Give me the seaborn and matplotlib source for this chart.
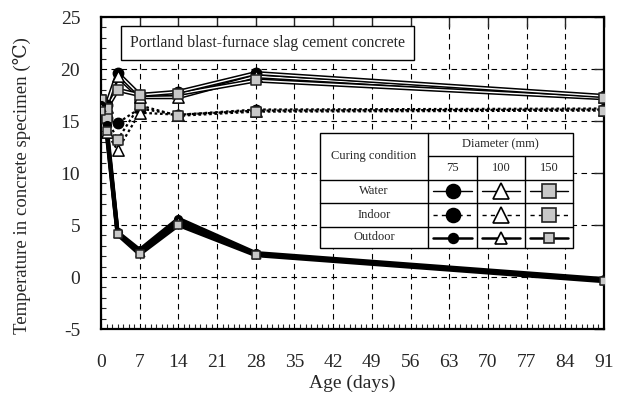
import numpy as np
import pandas as pd
import seaborn as sns
import matplotlib.pyplot as plt
import matplotlib.patheffects as pe
from matplotlib.lines import Line2D
from matplotlib.patches import Rectangle

# Age of the specimens (days)
age = [0, 1, 3, 7, 14, 28, 91]

# Temperature in concrete specimen (deg C), per curing condition and diameter
water_75 = [17.0, 16.5, 19.6, 17.5, 17.8, 19.6, 17.4]
water_100 = [17.0, 16.3, 19.3, 17.3, 17.3, 19.3, 17.3]
water_150 = [17.0, 16.2, 18.0, 17.5, 17.6, 18.9, 17.2]

indoor_75 = [17.0, 15.3, 14.8, 16.2, 15.6, 16.1, 16.2]
indoor_100 = [17.0, 13.9, 12.2, 15.8, 15.6, 16.0, 16.1]
indoor_150 = [17.0, 15.3, 13.2, 16.5, 15.5, 15.9, 16.0]

outdoor_75 = [16.5, 14.6, 4.3, 2.6, 5.6, 2.3, -0.2]
outdoor_100 = [16.3, 14.2, 4.2, 2.4, 5.4, 2.2, -0.3]
outdoor_150 = [16.0, 14.0, 4.1, 2.2, 5.0, 2.1, -0.4]

diameters = ["75", "100", "150"]
conditions = ["Water", "Indoor", "Outdoor"]

W, H = 618, 401
serif = ["Liberation Serif", "DejaVu Serif"]

sns.set_style("white")
plt.rcParams["font.family"] = serif
plt.rcParams["axes.unicode_minus"] = False

fig = plt.figure(figsize=(W / 100, H / 100), dpi=100)
ax = fig.add_axes([101 / W, 1 - 329 / H, (604 - 101) / W, (329 - 17) / H])

marker = {"75": "o", "100": "^", "150": "s"}
face = {"75": "black", "100": "white", "150": "#c8c8c8"}
edge = {"75": "black", "100": "black", "150": "#222222"}

series = {
    ("Water", "75"): water_75, ("Water", "100"): water_100, ("Water", "150"): water_150,
    ("Indoor", "75"): indoor_75, ("Indoor", "100"): indoor_100, ("Indoor", "150"): indoor_150,
    ("Outdoor", "75"): outdoor_75, ("Outdoor", "100"): outdoor_100, ("Outdoor", "150"): outdoor_150,
}

rows = []
for (cond, d), vals in series.items():
    for a, v in zip(age, vals):
        rows.append({"age": a, "temp": v, "cond": cond, "dia": d})
df = pd.DataFrame(rows)

# lines
for (cond, d), sub in df.groupby(["cond", "dia"]):
    if cond == "Water":
        sns.lineplot(data=sub, x="age", y="temp", color="white", lw=1.0, ax=ax,
                     path_effects=[pe.Stroke(linewidth=3.2, foreground="black"), pe.Normal()],
                     zorder=3)
    elif cond == "Indoor":
        sns.lineplot(data=sub, x="age", y="temp", color="black", lw=1.6, ax=ax,
                     linestyle=(0, (1.2, 1.2)), zorder=3)
    else:
        sns.lineplot(data=sub, x="age", y="temp", color="black", lw=3.0, ax=ax, zorder=3)

# markers
for cond in ["Indoor", "Water", "Outdoor"]:
    for d in diameters:
        sub = df[(df.cond == cond) & (df.dia == d)]
        size = 55 if cond != "Outdoor" else 30
        if d == "100":
            size *= 1.2
        sns.scatterplot(data=sub, x="age", y="temp", marker=marker[d], s=size,
                        color=face[d], edgecolor=edge[d], linewidth=1.1, ax=ax, zorder=4)

ax.set_xlim(0, 91)
ax.set_ylim(-5, 25)
ax.set_xticks(np.arange(0, 92, 7))
ax.set_yticks(np.arange(-5, 26, 5))
ax.set_xticks(np.arange(0, 92, 1), minor=True)
ax.set_yticks(np.arange(-5, 26, 1), minor=True)
ax.tick_params(which="major", direction="in", length=7, width=1, top=True, right=True,
               labelsize=14)
ax.tick_params(which="minor", direction="in", length=3.5, width=0.8, top=False, right=False)
ax.tick_params(axis="x", which="major", pad=18)
ax.tick_params(axis="y", which="major", pad=15)
ax.tick_params(axis="y", which="minor", left=True)
ax.tick_params(axis="x", which="minor", bottom=True)
ax.grid(True, which="major", color="black", linestyle=(0, (5, 4)), linewidth=0.8)
for s in ax.spines.values():
    s.set_linewidth(1.6)
    s.set_color("black")
ax.set_xlabel("Age (days)", fontsize=14)
ax.set_ylabel("Temperature in concrete specimen (\u2103)", fontsize=13.5)
ax.xaxis.set_label_coords(0.5, -(383 - 329) / 312, transform=ax.transAxes)
ax.yaxis.set_label_coords((22 - 101) / 503, 1 - (186 - 17) / 312, transform=ax.transAxes)
ax.xaxis.label.set_va("center")
ax.yaxis.label.set_va("center")

# title box
ax.text(0.5 * (127 + 408) / W, 1 - 43 / H, "Portland blast-furnace slag cement concrete",
        transform=fig.transFigure, fontsize=11.3, ha="center", va="center", zorder=6,
        bbox=dict(boxstyle="square,pad=0.55", fc="white", ec="black", lw=1.0))

# legend table (pixel layout)
def fx(x):
    return x / W

def fy(y):
    return 1 - y / H

x0, xc1, xc2, xc3, x1 = 320, 428, 477, 525, 573
y0, yh, yr1, yr2, yr3, y1 = 133, 156, 180, 203, 227, 248
fig.patches.append(Rectangle((fx(x0), fy(y1)), fx(x1) - fx(x0), fy(y0) - fy(y1),
                             transform=fig.transFigure, fc="white", ec="black", lw=1.0, zorder=5))
seg = [((xc1, y0), (xc1, y1)), ((xc2, yh), (xc2, y1)), ((xc3, yh), (xc3, y1)),
       ((xc1, yh), (x1, yh)), ((x0, yr1), (x1, yr1)), ((x0, yr2), (x1, yr2)), ((x0, yr3), (x1, yr3))]
for (a, b), (c, e) in seg:
    fig.add_artist(Line2D([fx(a), fx(c)], [fy(b), fy(e)], color="black", lw=1.0, zorder=6))

tk = dict(fontsize=9, ha="center", va="center", zorder=8)
fig.text(fx((x0 + xc1) / 2), fy((y0 + yr1) / 2), "Curing condition", **tk)
fig.text(fx((xc1 + x1) / 2), fy((y0 + yh) / 2), "Diameter (mm)", **tk)
cols = [(xc1, xc2), (xc2, xc3), (xc3, x1)]
for (a, b), d in zip(cols, diameters):
    fig.text(fx((a + b) / 2), fy((yh + yr1) / 2), d, **tk)
row_y = [(yr1, yr2), (yr2, yr3), (yr3, y1)]
for (a, b), cond in zip(row_y, conditions):
    yc = fy((a + b) / 2)
    fig.text(fx((x0 + xc1) / 2), yc, cond, **tk)
    for (c0, c1), d in zip(cols, diameters):
        if cond == "Water":
            ls, lw, ms = "-", 1.0, 10
        elif cond == "Indoor":
            ls, lw, ms = (0, (3, 3)), 1.0, 10
        else:
            ls, lw, ms = "-", 1.8, 7
        fig.add_artist(Line2D([fx(c0 + 5), fx(c1 - 5)], [yc, yc], color="black", lw=lw,
                              linestyle=ls, zorder=6))
        fig.add_artist(Line2D([fx((c0 + c1) / 2)], [yc], marker=marker[d],
                              ms=ms * (1.15 if d == "100" else 1),
                              mfc=face[d], mec=edge[d], mew=1.2, linestyle="none", zorder=7))

fig.savefig("out.png", dpi=100)
